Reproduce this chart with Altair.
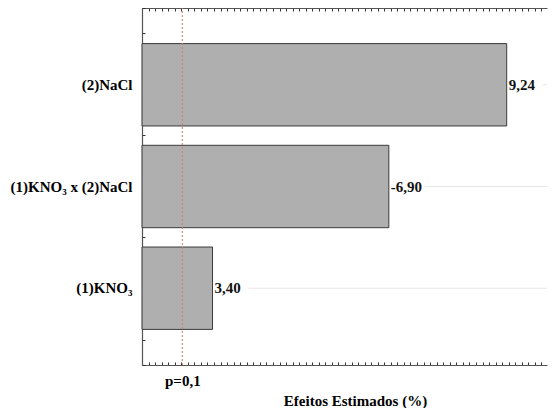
import altair as alt
import pandas as pd

# ---- data ----
factors = ["(2)NaCl", "(1)KNO₃ x (2)NaCl", "(1)KNO₃"]
effects = [9.24, -6.90, 3.40]
effect_labels = ["9,24", "-6,90", "3,40"]
p_value = 2.8
p_label = "p=0,1"
x_title = "Efeitos Estimados (%)"
x_min, x_max = 2.0, 10.04

df = pd.DataFrame({"factor": factors, "effect": effects, "label": effect_labels})
df["abs_effect"] = df["effect"].abs()
p_df = pd.DataFrame({"p": [p_value]})

# ---- layout / style ----
W, H = 405, 357
FONT = "Liberation Serif"
TICK_STEP = 0.13
x_ticks = [round(x_min + TICK_STEP * k, 3) for k in range(int((x_max - x_min) / TICK_STEP) + 1)]
y_ticks = list(range(15))
FRAME = "#555555"

xscale = alt.Scale(domain=[x_min, x_max], nice=False, zero=False)
yband = alt.Scale(type="band", paddingInner=0.19, paddingOuter=0.35)

grid = alt.Chart(df).mark_rule(color="#e6e6e6", strokeWidth=1, xOffset=36).encode(
    x=alt.X("abs_effect:Q", scale=xscale,
            axis=alt.Axis(orient="bottom", offset=-H, values=x_ticks, labels=False,
                          ticks=True, tickSize=3, tickColor="#333333", domain=True,
                          domainColor=FRAME, domainWidth=1.2, title=None, grid=False)),
    x2=alt.value(W),
    y=alt.Y("factor:N", sort=factors, scale=yband,
            axis=alt.Axis(orient="left", title=None, ticks=False, tickSize=0,
                          labelPadding=10, labelFont=FONT, labelFontSize=15,
                          labelFontWeight="bold", labelColor="#000000", domain=True,
                          domainColor=FRAME, domainWidth=1.2, grid=False)),
)

bars = alt.Chart(df).mark_bar(fill="#afafaf", stroke="#3a3a3a", strokeWidth=1).encode(
    x=alt.X("abs_effect:Q", scale=xscale, stack=None,
            axis=alt.Axis(orient="top", offset=-H, values=x_ticks, labels=False,
                          ticks=True, tickSize=3, tickColor="#333333", domain=True,
                          domainColor=FRAME, domainWidth=1.2, title=None, grid=False)),
    x2=alt.X2(datum=x_min),
    y=alt.Y("factor:N", sort=factors, scale=yband, axis=None),
)

texts = alt.Chart(df).mark_text(align="left", baseline="middle", dx=2, font=FONT,
                                fontSize=15, fontWeight="bold", color="#111111").encode(
    x=alt.X("abs_effect:Q", scale=xscale, axis=None),
    y=alt.Y("factor:N", sort=factors, scale=yband, axis=None, bandPosition=0.5),
    text="label:N",
)

pline = alt.Chart(p_df).mark_rule(color="#d47a66", strokeDash=[2, 2], strokeWidth=1).encode(
    x=alt.X("p:Q", scale=xscale,
            axis=alt.Axis(orient="bottom", values=[p_value], labelExpr=f"'{p_label}'",
                          ticks=False, tickSize=0, domain=False, labelPadding=8,
                          labelFont=FONT, labelFontSize=15, labelFontWeight="bold",
                          labelColor="#000000", title=x_title, titleFont=FONT,
                          titleFontSize=15, titleFontWeight="bold", titleColor="#000000",
                          titlePadding=5, titleX=213, grid=False)),
    y=alt.Y(datum=0, scale=alt.Scale(domain=[0, 14], nice=False),
            axis=alt.Axis(orient="right", offset=-W, values=y_ticks, labels=False,
                          ticks=True, tickSize=3, tickColor="#333333", domain=False,
                          title=None, grid=False)),
    y2=alt.Y2(datum=14),
)

chart = (
    alt.layer(grid, bars, texts, pline)
    .resolve_scale(y="independent")
    .resolve_axis(x="independent")
    .properties(width=W, height=H, autosize=alt.AutoSizeParams(type="none"),
                padding={"left": 134, "top": 0, "right": 1, "bottom": 43})
    .configure_view(stroke=None)
)

chart.save("out.html", embed_options={"renderer": "svg", "actions": False})
